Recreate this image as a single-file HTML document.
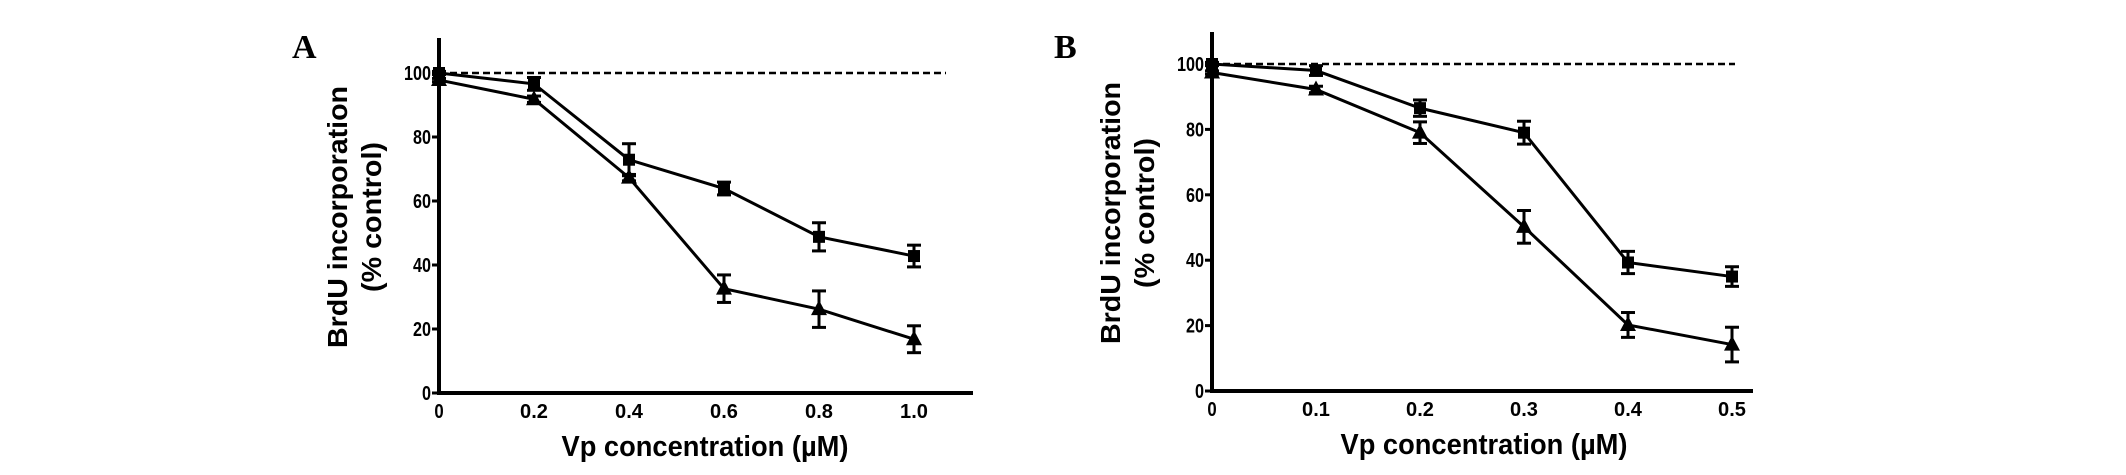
<!DOCTYPE html>
<html><head><meta charset="utf-8"><style>
html,body{margin:0;padding:0;background:#fff;}
svg{display:block;}
text{font-family:"Liberation Sans",sans-serif;font-weight:bold;fill:#000;}
</style></head><body>
<svg id="fig" width="2126" height="475" viewBox="0 0 2126 475" xmlns="http://www.w3.org/2000/svg"></svg>
<script>
// Panel A data
const aX = [0, 0.2, 0.4, 0.6, 0.8, 1.0];
const aXTicks = ["0", "0.2", "0.4", "0.6", "0.8", "1.0"];
const aSquare = [100, 96.6, 72.9, 63.9, 48.8, 42.8];
const aSquareErr = [0.5, 2, 5, 2, 4.4, 3.4];
const aTri = [97.8, 91.8, 67.3, 32.6, 26.2, 16.8];
const aTriErr = [0.5, 1, 1, 4.3, 5.7, 4.2];
// Panel B data
const bX = [0, 0.1, 0.2, 0.3, 0.4, 0.5];
const bXTicks = ["0", "0.1", "0.2", "0.3", "0.4", "0.5"];
const bSquare = [100, 98, 86.5, 79, 39.3, 35];
const bSquareErr = [0.5, 1.5, 2.5, 3.5, 3.4, 3];
const bTri = [97.4, 92.2, 79, 50.2, 20.2, 14.2];
const bTriErr = [0.5, 1, 3.3, 5, 3.8, 5.3];
const yTicks = [0, 20, 40, 60, 80, 100];

const NS = "http://www.w3.org/2000/svg";
const svg = document.getElementById('fig');
function mk(tag, attrs, parent, txt){
  const e = document.createElementNS(NS, tag);
  for (const k in attrs) e.setAttribute(k, attrs[k]);
  if (txt !== undefined) e.textContent = txt;
  (parent || svg).appendChild(e);
  return e;
}

function panel(cfg){
  const g = mk('g', {});
  
  
  const sx = v => cfg.x0 + (v - cfg.xs[0]) / (cfg.xs[cfg.xs.length-1] - cfg.xs[0]) * (cfg.x1 - cfg.x0);
  const sy = v => cfg.y0 - v / 100 * (cfg.y0 - cfg.y100);
  const ya = mk('line', {x1:cfg.x0, y1:cfg.yTop, x2:cfg.x0, y2:cfg.y0+2, stroke:'#000','stroke-width':4}, g);
  
  
  const xa = mk('line', {x1:cfg.x0-2, y1:cfg.y0, x2:cfg.xEnd, y2:cfg.y0, stroke:'#000','stroke-width':4}, g);
  
  
  yTicks.forEach(v => {
    const y = sy(v);
    mk('line', {x1:cfg.x0-7, y1:y, x2:cfg.x0, y2:y, stroke:'#000','stroke-width':3}, g);
    const t = mk('text', {x:cfg.x0-8, y:y+7, 'font-size':20, 'text-anchor':'end', textLength:String(v).length*9, lengthAdjust:'spacingAndGlyphs'}, g, String(v));
    
    
  });
  cfg.xs.forEach((v, i) => {
    const t = mk('text', {x:sx(v), y:cfg.y0+25, 'font-size':20, 'text-anchor':'middle', textLength:cfg.ticks[i].length*9.3, lengthAdjust:'spacingAndGlyphs'}, g, cfg.ticks[i]);
    
    
  });
  const d = mk('line', {x1:cfg.x0, y1:sy(100), x2:cfg.dashEnd, y2:sy(100), stroke:'#000','stroke-width':2.5,'stroke-dasharray':'7,4'}, g);
  
  
  function series(vals, errs, shape, name){
    const sg = mk('g', {}, g);
    
    
    const pts = cfg.xs.map((x, i) => sx(x) + ',' + sy(vals[i])).join(' ');
    mk('polyline', {points:pts, fill:'none', stroke:'#000', 'stroke-width':3}, sg);
    cfg.xs.forEach((x, i) => {
      const cx = sx(x), cy = sy(vals[i]);
      const yt = sy(vals[i] + errs[i]), yb = sy(vals[i] - errs[i]);
      mk('line', {x1:cx, y1:yt, x2:cx, y2:yb, stroke:'#000','stroke-width':3}, sg);
      mk('line', {x1:cx-7, y1:yt, x2:cx+7, y2:yt, stroke:'#000','stroke-width':3}, sg);
      mk('line', {x1:cx-7, y1:yb, x2:cx+7, y2:yb, stroke:'#000','stroke-width':3}, sg);
      let m;
      if (shape === 'square') m = mk('rect', {x:cx-6, y:cy-6, width:12, height:12, fill:'#000'}, sg);
      else m = mk('polygon', {points:(cx)+','+(cy-9)+' '+(cx-8)+','+(cy+6)+' '+(cx+8)+','+(cy+6), fill:'#000'}, sg);
      
      
    });
  }
  series(cfg.sq, cfg.sqE, 'square', 'square-series');
  series(cfg.tr, cfg.trE, 'triangle', 'triangle-series');
  const xt = mk('text', {x:cfg.xTitleX, y:cfg.y0+63, 'font-size':29, 'text-anchor':'middle', textLength:287, lengthAdjust:'spacingAndGlyphs'}, g, 'Vp concentration (\u00B5M)');
  
  
  const yc = cfg.yc;
  const yt1 = mk('text', {x:0, y:0, 'font-size':28, 'text-anchor':'middle', transform:`translate(${cfg.x0-92},${yc}) rotate(-90)`, textLength:262, lengthAdjust:'spacingAndGlyphs'}, g, 'BrdU incorporation');
  
  
  const yt2 = mk('text', {x:0, y:0, 'font-size':28, 'text-anchor':'middle', transform:`translate(${cfg.x0-58},${yc}) rotate(-90)`, textLength:150, lengthAdjust:'spacingAndGlyphs'}, g, '(% control)');
  
  
  const L = mk('text', {x:cfg.lx, y:58, 'font-size':34, style:'font-family:"Liberation Serif",serif;font-weight:bold'}, g, cfg.letter);
  
  
}

panel({name:'panel-a', letter:'A', lx:292, x0:439, x1:914, xEnd:973, dashEnd:946, y0:393, y100:73, yTop:38, yc:217,
  xs:aX, ticks:aXTicks, sq:aSquare, sqE:aSquareErr, tr:aTri, trE:aTriErr, xTitleX:705});
panel({name:'panel-b', letter:'B', lx:1054, x0:1212, x1:1732, xEnd:1753, dashEnd:1735, y0:391, y100:64, yTop:32, yc:213,
  xs:bX, ticks:bXTicks, sq:bSquare, sqE:bSquareErr, tr:bTri, trE:bTriErr, xTitleX:1484});
</script>
</body></html>
